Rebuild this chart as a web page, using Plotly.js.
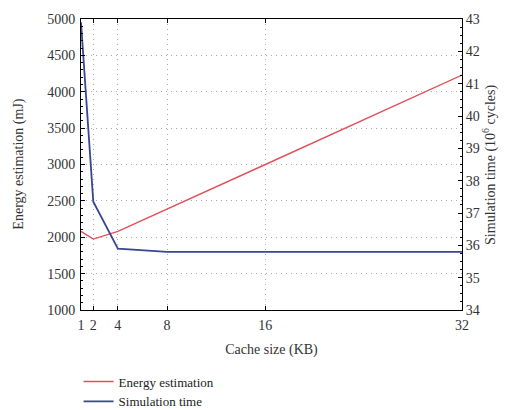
<!DOCTYPE html>
<html><head><meta charset="utf-8">
<script src="https://cdn.plot.ly/plotly-3.0.1.min.js"></script>
<style>html,body{margin:0;padding:0;background:#fff}#c{width:507px;height:410px}</style>
</head><body><div id="c"></div>
<script>
const cacheSize = [1, 2, 4, 8, 16, 32];
const energy = [2080, 1975, 2080, 2390, 3000, 4230];
const simTime = [42.9, 37.35, 35.9, 35.8, 35.8, 35.8];
const xTicks = [1, 2, 4, 8, 16, 32];

const FAM = 'Times New Roman, Times, Liberation Serif, DejaVu Serif, serif';
const font = {family: FAM, size: 14, color: '#333'};
const grid = {showgrid: true, gridcolor: '#aaa', griddash: '1px,4px', gridwidth: 1};
const traces = [
  {x: cacheSize, y: energy, name: 'Energy estimation', type: 'scatter', mode: 'lines',
   line: {color: '#e0505a', width: 1.4}, yaxis: 'y'},
  {x: cacheSize, y: simTime, name: 'Simulation time', type: 'scatter', mode: 'lines',
   line: {color: '#3b4690', width: 1.8}, yaxis: 'y2'}
];
const layout = {
  width: 507, height: 410,
  margin: {l: 81, r: 45, t: 19, b: 100, autoexpand: false},
  paper_bgcolor: '#fff', plot_bgcolor: '#fff',
  font: font,
  showlegend: true,
  legend: {xref: 'container', yref: 'container', x: 0.155, y: 0.106, xanchor: 'left', yanchor: 'top',
           orientation: 'v', font: {family: FAM, size: 13, color: '#222'}, tracegroupgap: 0,
           itemwidth: 30, bgcolor: 'rgba(0,0,0,0)'},
  xaxis: Object.assign({range: [1, 32], tickvals: xTicks, ticktext: xTicks.map(String),
          ticks: 'inside', ticklen: 4, tickcolor: '#000', mirror: 'ticks',
          showline: true, linecolor: '#000', linewidth: 1,
          ticklabelstandoff: 2, zeroline: false,
          title: {text: 'Cache size (KB)', font: font, standoff: 12}}, grid),
  yaxis: Object.assign({range: [1000, 5000], dtick: 500, ticks: 'inside', ticklen: 4, tickcolor: '#000',
          showline: true, linecolor: '#000', linewidth: 1, zeroline: false,
          ticklabelstandoff: 2,
          minor: {ticks: 'inside', ticklen: 2, tickcolor: '#000', dtick: 100, showgrid: false}}, grid),
  yaxis2: {range: [34, 43], dtick: 1, overlaying: 'y', side: 'right',
           ticks: 'inside', ticklen: 4, tickcolor: '#000',
           showline: true, linecolor: '#000', linewidth: 1,
           showgrid: false, zeroline: false,
           minor: {ticks: 'inside', ticklen: 2, tickcolor: '#000', dtick: 0.25}},
  annotations: [
    {text: 'Energy estimation (mJ)', xref: 'paper', yref: 'paper', x: -0.165, y: 0.5,
     xanchor: 'center', yanchor: 'middle', textangle: -90, showarrow: false, font: font},
    {text: 'Simulation time (10<sup>6</sup> cycles)', xref: 'paper', yref: 'paper', x: 1.072, y: 0.5,
     xanchor: 'center', yanchor: 'middle', textangle: -90, showarrow: false, font: font}
  ]
};
Plotly.newPlot('c', traces, layout, {displayModeBar: false, staticPlot: true});
</script></body></html>
